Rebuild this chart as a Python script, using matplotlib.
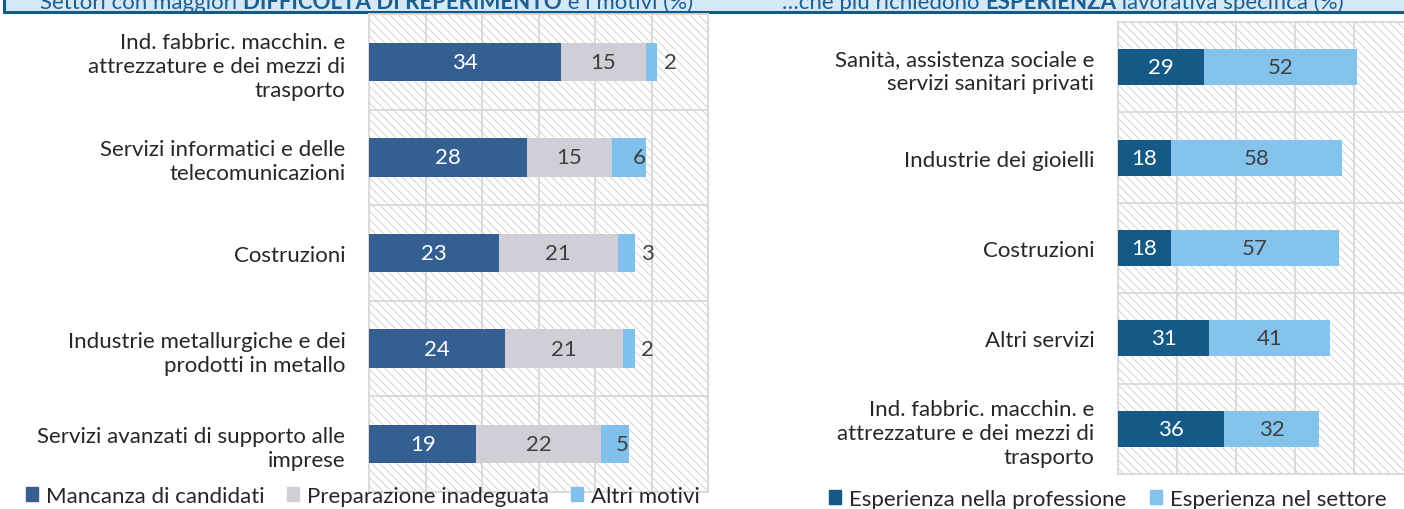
import numpy as np
import matplotlib.pyplot as plt
from matplotlib.patches import Patch, Rectangle

plt.rcParams['font.family'] = ['Lato', 'DejaVu Sans']
plt.rcParams['hatch.linewidth'] = 0.6

# left panel: difficolta' di reperimento e motivi (%)
left_cats = [
    "Ind. fabbric. macchin. e\nattrezzature e dei mezzi di\ntrasporto",
    "Servizi informatici e delle\ntelecomunicazioni",
    "Costruzioni",
    "Industrie metallurgiche e dei\nprodotti in metallo",
    "Servizi avanzati di supporto alle\nimprese",
]
left_mancanza = [34, 28, 23, 24, 19]
left_preparazione = [15, 15, 21, 21, 22]
left_altri = [2, 6, 3, 2, 5]
left_series = ["Mancanza di candidati", "Preparazione inadeguata", "Altri motivi"]

# right panel: esperienza richiesta (%)
right_cats = [
    "Sanità, assistenza sociale e\nservizi sanitari privati",
    "Industrie dei gioielli",
    "Costruzioni",
    "Altri servizi",
    "Ind. fabbric. macchin. e\nattrezzature e dei mezzi di\ntrasporto",
]
right_professione = [29, 18, 18, 31, 36]
right_settore = [52, 58, 57, 41, 32]
right_series = ["Esperienza nella professione", "Esperienza nel settore"]

C_DARK = "#365f91"
C_GRAY = "#d0cfd8"
C_LIGHT = "#7fc1ea"
C_TEAL = "#155a87"
C_SKY = "#84c3ec"
TXT = "#404040"
GRID = "#d9d9d9"
FS = 16

W, H = 1404, 510
fig = plt.figure(figsize=(W / 100, H / 100), dpi=100)


def px_axes(x0, x1, y0, y1):
    return fig.add_axes([x0 / W, 1 - y1 / H, (x1 - x0) / W, (y1 - y0) / H])


def style_axes(ax, cats, xmax, step):
    n = len(cats)
    ax.patch.set_visible(False)
    ax.add_patch(Rectangle((0, 0), 1, 1, transform=ax.transAxes, facecolor="white",
                           edgecolor="#cdcdcd", hatch="\\\\\\\\", lw=0, zorder=0))
    ax.set_xlim(0, xmax)
    ax.set_ylim(n - 0.5, -0.5)
    ax.set_xticks(np.arange(0, xmax + 1, step))
    ax.set_xticklabels([])
    ax.set_yticks(np.arange(n))
    ax.set_yticklabels(cats, fontsize=FS, color="#262626", linespacing=1.25)
    ax.set_yticks(np.arange(n + 1) - 0.5, minor=True)
    ax.tick_params(axis="both", which="both", length=0)
    ax.tick_params(axis="y", pad=17)
    ax.grid(True, axis="x", color=GRID, lw=1.3)
    ax.grid(True, axis="y", which="minor", color=GRID, lw=1.3)
    ax.set_axisbelow(True)
    for s in ax.spines.values():
        s.set_color(GRID)
        s.set_linewidth(1.3)


# ---- header band (cut by the top of the picture), drawn first
fig.patches.append(Rectangle((4 / W, 1 - 13 / H), 1.2, 0.2, transform=fig.transFigure,
                             facecolor="#d5e8f6", edgecolor="#155a87", lw=2.2, zorder=-1))

# ---- left chart
ax1 = px_axes(369, 708, 15, 493)
style_axes(ax1, left_cats, 60, 10)
y = np.arange(len(left_cats))
b1 = ax1.barh(y, left_mancanza, height=0.4, color=C_DARK, zorder=3)
b2 = ax1.barh(y, left_preparazione, left=left_mancanza, height=0.4, color=C_GRAY, zorder=3)
start3 = np.array(left_mancanza) + np.array(left_preparazione)
b3 = ax1.barh(y, left_altri, left=start3, height=0.4, color=C_LIGHT, zorder=3)
ax1.bar_label(b1, label_type="center", color="white", fontsize=FS)
ax1.bar_label(b2, label_type="center", color=TXT, fontsize=FS)
for yi, s, v in zip(y, start3, left_altri):
    end = s + v
    if v >= 5:
        ax1.text(end, yi, str(v), ha="right", va="center", color=TXT, fontsize=FS, zorder=4)
    else:
        ax1.text(end + 1.2, yi, str(v), ha="left", va="center", color=TXT, fontsize=FS, zorder=4)

# ---- right chart
ax2 = px_axes(1118, 1413, 23, 475)
style_axes(ax2, right_cats, 100, 20)
y = np.arange(len(right_cats))
r1 = ax2.barh(y, right_professione, height=0.4, color=C_TEAL, zorder=3)
r2 = ax2.barh(y, right_settore, left=right_professione, height=0.4, color=C_SKY, zorder=3)
ax2.bar_label(r1, label_type="center", color="white", fontsize=FS)
ax2.bar_label(r2, label_type="center", color=TXT, fontsize=FS)

# ---- header titles, mixed weight pieces chained one after the other
HC = "#1c5f8f"
base = 1 - 9 / H
t = fig.text(40 / W, base, "Settori con maggiori ", ha="left", va="baseline",
             color=HC, fontsize=FS)
for part, wgt in [("DIFFICOLTÀ DI REPERIMENTO", "bold"), (" e i motivi (%)", "normal")]:
    t = ax1.annotate(part, xy=(1, 0), xycoords=t, ha="left", va="bottom", clip_on=False,
                     color=HC, fontsize=FS, fontweight=wgt, annotation_clip=False)
t = fig.text(782 / W, base, "…che più richiedono ", ha="left", va="baseline",
             color=HC, fontsize=FS)
for part, wgt in [("ESPERIENZA", "bold"), (" lavorativa specifica (%)", "normal")]:
    t = ax2.annotate(part, xy=(1, 0), xycoords=t, ha="left", va="bottom", clip_on=False,
                     color=HC, fontsize=FS, fontweight=wgt, annotation_clip=False)

# ---- legends
h1 = [Patch(color=c) for c in (C_DARK, C_GRAY, C_LIGHT)]
fig.legend(h1, left_series, loc="center left", bbox_to_anchor=(26 / W, 1 - 497 / H),
           ncol=3, frameon=False, fontsize=FS, handlelength=0.55, handleheight=0.55,
           handletextpad=0.35, columnspacing=1.0, borderpad=0, borderaxespad=0,
           labelcolor="#262626")
h2 = [Patch(color=c) for c in (C_TEAL, C_SKY)]
fig.legend(h2, right_series, loc="center left", bbox_to_anchor=(829 / W, 1 - 500 / H),
           ncol=2, frameon=False, fontsize=FS, handlelength=0.55, handleheight=0.55,
           handletextpad=0.35, columnspacing=1.05, borderpad=0, borderaxespad=0,
           labelcolor="#262626")

fig.savefig("out.png", dpi=100)
